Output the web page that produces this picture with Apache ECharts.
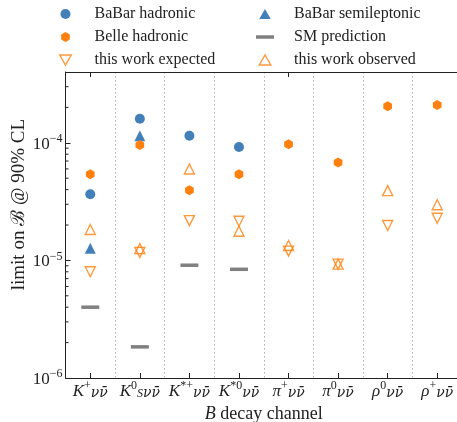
<!DOCTYPE html>
<html><head><meta charset="utf-8">
<script src="https://cdn.jsdelivr.net/npm/echarts@6/dist/echarts.min.js"></script>
<style>html,body{margin:0;padding:0;background:#fff}#c{width:457px;height:422px}</style>
</head><body><div id="c"></div>
<script>
var categories = ['{i|K}{sup|+}{n|νν\u0304}', '{i|K}{sup|0}{sub|S}{n|νν\u0304}', '{i|K}{sup|*+}{n|νν\u0304}', '{i|K}{sup|*0}{n|νν\u0304}',
  '{i|π}{sup|+}{n|νν\u0304}', '{i|π}{sup|0}{n|νν\u0304}', '{i|ρ}{sup|0}{n|νν\u0304}', '{i|ρ}{sup|+}{n|νν\u0304}'];
var babarHadronic = [3.65e-5, 1.6e-4, 1.15e-4, 9.2e-5, '-', '-', '-', '-'];
var babarSemileptonic = [1.27e-5, 1.15e-4, '-', '-', '-', '-', '-', '-'];
var belleHadronic = [5.4e-5, 9.6e-5, 3.95e-5, 5.4e-5, 9.7e-5, 6.8e-5, 2.05e-4, 2.1e-4];
var smPrediction = [4.0e-6, 1.84e-6, 9.1e-6, 8.4e-6, '-', '-', '-', '-'];
var thisExpected = [8.0e-6, 1.17e-5, 2.18e-5, 2.15e-5, 1.2e-5, 9.3e-6, 1.98e-5, 2.28e-5];
var thisObserved = [1.83e-5, 1.26e-5, 5.98e-5, 1.77e-5, 1.34e-5, 9.3e-6, 3.92e-5, 2.97e-5];
var minorTickValues = [2e-6,3e-6,4e-6,5e-6,6e-6,7e-6,8e-6,9e-6,2e-5,3e-5,4e-5,5e-5,6e-5,7e-5,8e-5,9e-5,2e-4,3e-4];

var FONT = 'Liberation Serif';
var BLUE = '#4380ba', ORANGE = '#ff800e', GRAY = '#808080', INK = '#222';
var HEX = 'path://M0,-1L0.866,-0.5L0.866,0.5L0,1L-0.866,0.5L-0.866,-0.5Z';
var DOWN = 'path://M0,0L10,0L5,8.66Z';
var UP = 'path://M5,0L10,8.66L0,8.66Z';
var BAR = 'path://M0,0H18V3.5H0Z';
var hollow = {color: 'rgba(0,0,0,0)', borderColor: ORANGE, borderWidth: 1.4};

var chart = echarts.init(document.getElementById('c'), null, {renderer: 'canvas'});
var legendText = {fontFamily: FONT, fontSize: 16, color: INK, lineHeight: 16, padding: [0, 0, 0, 15]};
chart.setOption({
  animation: false,
  textStyle: {fontFamily: FONT},
  grid: {left: 65.5, right: -5, top: 72, bottom: 44, containLabel: false, outerBoundsMode: 'none'},
  graphic: [{
    type: 'text', left: 10, top: 119,
    style: {text: 'limit on ℬ @ 90% CL', fontFamily: FONT, fontSize: 19, fill: INK},
    rotation: Math.PI / 2, originX: 0, originY: 0
  }],
  legend: [
    {orient: 'vertical', left: 59, top: 6, padding: 0, itemGap: 7, itemWidth: 18, itemHeight: 10, textStyle: legendText,
     data: [
      {name: 'BaBar hadronic', icon: 'circle', itemStyle: {color: BLUE}},
      {name: 'Belle hadronic', icon: HEX, itemStyle: {color: ORANGE}},
      {name: 'this work expected', icon: DOWN, itemStyle: hollow}
     ]},
    {orient: 'vertical', left: 256, top: 6, padding: 0, itemGap: 7, itemWidth: 18, itemHeight: 10, textStyle: legendText,
     data: [
      {name: 'BaBar semileptonic', icon: UP, itemStyle: {color: BLUE}},
      {name: 'SM prediction', icon: BAR, itemStyle: {color: GRAY}},
      {name: 'this work observed', icon: UP, itemStyle: hollow}
     ]}
  ],
  xAxis: [{
    type: 'category', data: categories, boundaryGap: true, position: 'bottom',
    name: '{i|B} decay channel', nameLocation: 'middle', nameGap: 24,
    nameTextStyle: {fontFamily: FONT, fontSize: 18, color: INK, rich: {i: {fontStyle: 'italic', fontFamily: FONT, fontSize: 18, color: INK}}},
    axisLine: {lineStyle: {color: INK, width: 1}},
    axisTick: {show: true, inside: true, alignWithLabel: true, length: 5, lineStyle: {color: INK}},
    axisLabel: {interval: 0, margin: 2, color: INK, formatter: function (v) { return v; },
      rich: {
        i: {fontStyle: 'italic', fontFamily: FONT, fontSize: 17, color: INK, lineHeight: 20, verticalAlign: 'bottom'},
        n: {fontStyle: 'italic', fontFamily: 'DejaVu Serif', fontSize: 14, color: INK, lineHeight: 20, verticalAlign: 'bottom'},
        sup: {fontFamily: FONT, fontSize: 12, color: INK, lineHeight: 12, verticalAlign: 'top'},
        sub: {fontStyle: 'italic', fontFamily: FONT, fontSize: 12, color: INK, lineHeight: 10, verticalAlign: 'bottom'}
      }},
    splitLine: {show: true, interval: 0, lineStyle: {type: [1.5, 2.5], color: '#a9b0bf', width: 1}}
  }, {
    type: 'category', data: categories, boundaryGap: true, position: 'top',
    axisLine: {lineStyle: {color: INK, width: 1}},
    axisTick: {show: true, inside: true, alignWithLabel: true, length: 5, lineStyle: {color: INK}},
    axisLabel: {show: false}, splitLine: {show: false}
  }],
  yAxis: {
    type: 'log', logBase: 10, min: 1e-6, max: 4e-4,
    axisLine: {show: true, lineStyle: {color: INK, width: 1}},
    axisTick: {show: true, inside: true, length: 5, lineStyle: {color: INK}},
    splitLine: {show: false},
    axisLabel: {margin: 3, color: INK,
      formatter: function (v) {
        var l = Math.log10(v), e = Math.round(l);
        if (Math.abs(l - e) > 1e-6) return '';
        return '{n|10}{sup|−' + (-e) + '}';
      },
      rich: {
        n: {fontFamily: FONT, fontSize: 17, color: INK, lineHeight: 20, verticalAlign: 'bottom'},
        sup: {fontFamily: FONT, fontSize: 12, color: INK, lineHeight: 12, verticalAlign: 'top'}
      }}
  },
  series: [
    {name: 'BaBar hadronic', type: 'scatter', data: babarHadronic, symbol: 'circle', symbolSize: 10, itemStyle: {color: BLUE, opacity: 1}},
    {name: 'BaBar semileptonic', type: 'scatter', data: babarSemileptonic, symbol: 'triangle', symbolSize: 11, itemStyle: {color: BLUE, opacity: 1}},
    {name: 'Belle hadronic', type: 'scatter', data: belleHadronic, symbol: HEX, symbolKeepAspect: true, symbolSize: 10, itemStyle: {color: ORANGE, opacity: 1}},
    {name: 'SM prediction', type: 'scatter', data: smPrediction, symbol: 'rect', symbolSize: [18, 3.5], itemStyle: {color: GRAY, opacity: 1}},
    {name: 'this work expected', type: 'scatter', data: thisExpected, symbol: 'triangle', symbolRotate: 180, symbolSize: 10, itemStyle: hollow},
    {name: 'this work observed', type: 'scatter', data: thisObserved, symbol: 'triangle', symbolSize: 10, itemStyle: hollow},
    {type: 'custom', silent: true, clip: false, encode: {x: 0, y: 1},
     data: minorTickValues.map(function (v) { return [0, v]; }),
     renderItem: function (params, api) {
       var y = api.coord([0, api.value(1)])[1];
       var x0 = params.coordSys.x;
       return {type: 'line', shape: {x1: x0, y1: y, x2: x0 + 3, y2: y}, style: {stroke: INK, lineWidth: 1}};
     }}
  ]
});
</script></body></html>
